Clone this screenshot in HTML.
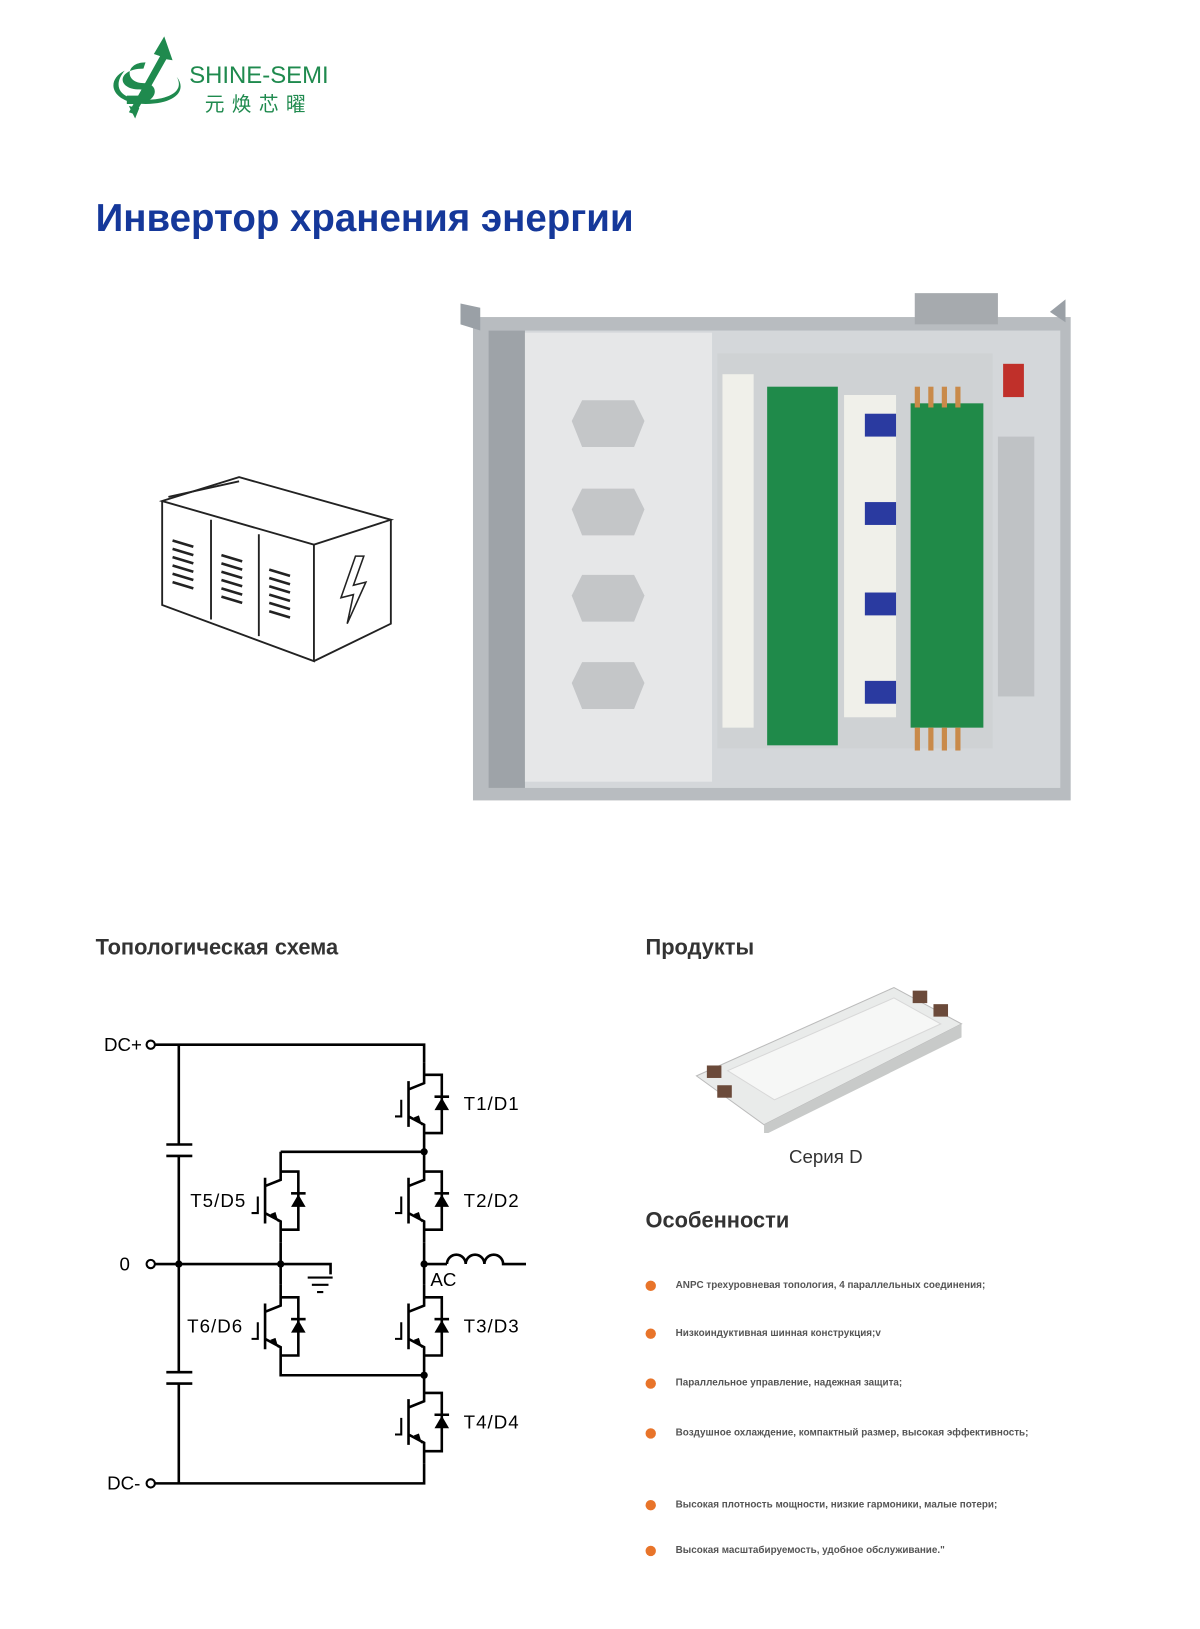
<!DOCTYPE html>
<html><head><meta charset="utf-8"><style>
body{margin:0;background:#fff;}
.o{width:1200px;height:1629px;overflow:hidden;position:relative;}
.p{position:absolute;left:0;top:0;width:1200px;height:1629px;transform:scale(1.0395);transform-origin:0 0;font-family:"Liberation Sans","Noto Sans CJK SC",sans-serif;}
.t{position:absolute;white-space:nowrap;}
</style></head><body><div class="o"><div class="p">
<!-- logo -->
<svg class="t" style="left:100px;top:30px" width="80" height="90" viewBox="0 0 80 90">
<path d="M58 5 L66 28 L60 27 L30 80 L24 78 L54 24 L48 22 Z" fill="#1f8a4e"/>
<path d="M40 30 C20 30 20 50 38 50 C55 50 52 70 30 70 L22 70 L22 62 L32 62 C42 62 42 56 34 56 C12 56 12 36 38 36 Z" fill="#1f8a4e"/>
<path d="M20 38 C0 48 8 70 40 70 C70 70 80 56 70 44 C78 58 62 66 40 66 C14 66 8 52 20 38Z" fill="#1f8a4e"/>
<path d="M24 72 L30 84 L34 74Z" fill="#1f8a4e"/>
</svg>
<div class="t" style="left:182px;top:59px;font-size:23px;color:#1f8a4e;">SHINE-SEMI</div>
<div class="t" style="left:197px;top:86px;font-size:19px;color:#1f8a4e;letter-spacing:7px;">元焕芯曜</div>
<div class="t" style="left:92px;top:189px;font-size:37px;font-weight:bold;color:#15389a;">Инвертор хранения энергии</div>

<!-- box icon -->
<svg class="t" style="left:150px;top:452px" width="235" height="190" viewBox="150 452 235 190" fill="none" stroke="#222" stroke-width="1.8">
<path d="M156 482 L230 459 L376 500 L302 524 Z"/>
<path d="M156 482 L156 582 L302 636 L302 524"/>
<path d="M376 500 L376 600 L302 636"/>
<path d="M162 478 L230 463"/>
<line x1="203" y1="500" x2="203" y2="596"/><line x1="249" y1="514" x2="249" y2="612"/>
<g stroke-width="2.5">
<path d="M166 520 l20 6 M166 528 l20 6 M166 536 l20 6 M166 544 l20 6 M166 552 l20 6 M166 560 l20 6"/>
<path d="M213 534 l20 6 M213 542 l20 6 M213 550 l20 6 M213 558 l20 6 M213 566 l20 6 M213 574 l20 6"/>
<path d="M259 548 l20 6 M259 556 l20 6 M259 564 l20 6 M259 572 l20 6 M259 580 l20 6 M259 588 l20 6"/>
</g>
<path d="M342 535 L328 575 L340 572 L334 600 L352 560 L340 563 L350 535 Z" stroke-width="1.5"/>
</svg>

<!-- photo -->
<svg class="t" style="left:440px;top:278px" width="605" height="500" viewBox="440 278 605 500">
<rect x="455" y="305" width="575" height="465" fill="#b8bcc0"/>
<polygon points="443,292 462,296 462,318 443,312" fill="#9aa0a6"/>
<polygon points="1025,288 1010,300 1025,310" fill="#9aa0a6"/>
<rect x="880" y="282" width="80" height="30" fill="#a6aaae"/>
<rect x="470" y="318" width="550" height="440" fill="#d4d7da"/>
<rect x="470" y="318" width="35" height="440" fill="#9ea3a8"/>
<rect x="505" y="320" width="180" height="432" fill="#e6e7e8"/>
<g fill="#c4c6c8"><polygon points="560,385 610,385 620,405 610,430 560,430 550,405"/><polygon points="560,470 610,470 620,490 610,515 560,515 550,490"/><polygon points="560,553 610,553 620,573 610,598 560,598 550,573"/><polygon points="560,637 610,637 620,657 610,682 560,682 550,657"/></g>
<rect x="690" y="340" width="265" height="380" fill="#cfd2d4"/>
<rect x="738" y="372" width="68" height="345" fill="#1f8a4a"/>
<rect x="876" y="388" width="70" height="312" fill="#208a48"/>
<g fill="#f0f0ea"><rect x="695" y="360" width="30" height="340"/><rect x="812" y="380" width="50" height="310"/></g>
<g fill="#2a3aa0"><rect x="832" y="398" width="30" height="22"/><rect x="832" y="483" width="30" height="22"/><rect x="832" y="570" width="30" height="22"/><rect x="832" y="655" width="30" height="22"/></g>
<g fill="#c0302a"><rect x="965" y="350" width="20" height="32"/><rect x="965" y="535" width="20" height="32"/></g>
<g fill="#c98a4a"><rect x="880" y="372" width="5" height="20"/><rect x="893" y="372" width="5" height="20"/><rect x="906" y="372" width="5" height="20"/><rect x="919" y="372" width="5" height="20"/><rect x="880" y="700" width="5" height="22"/><rect x="893" y="700" width="5" height="22"/><rect x="906" y="700" width="5" height="22"/><rect x="919" y="700" width="5" height="22"/></g>
<rect x="960" y="420" width="35" height="250" fill="#bfc2c5"/>
</svg>

<div class="t" style="left:92px;top:900px;font-size:21px;font-weight:bold;color:#333;">Топологическая схема</div>
<div class="t" style="left:621px;top:900px;font-size:21px;font-weight:bold;color:#333;">Продукты</div>

<!-- circuit -->
<svg class="t" style="left:0;top:980px" width="560" height="470" viewBox="0 980 560 470" font-family="Liberation Sans, sans-serif" font-size="18" letter-spacing="1" fill="none" stroke="#000" stroke-width="2.5">
<defs>
<g id="ig">
<path d="M0 -40 V-20 L-15 -14 M-15 -22 V22 M-15 12 L0 20 V40 M0 -28 H17 V28 H0"/>
<path d="M-22 -4 V12 H-28" stroke-width="2"/>
<polygon points="-2,21 -10,13 -5,11" fill="#000" stroke="none"/>
<polygon points="17,-6 10,6 24,6" fill="#000" stroke="none"/>
<line x1="10" y1="-7" x2="24" y2="-7"/>
</g>
</defs>
<path d="M148 1005 H408 V1022 M172 1005 V1101 M172 1112 V1320 M172 1331 V1427 M148 1427 H408 V1408 M148 1216 H318 V1226"/>
<path d="M160 1101 H185 M160 1112 H185 M160 1320 H185 M160 1331 H185"/>
<path d="M296 1229 H320 M300 1236 H316 M305 1243 H311" stroke-width="2"/>
<path d="M408 1102 V1115 M408 1195 V1236 M408 1316 V1328 M270 1108 H408 M270 1108 V1115 M270 1195 V1236 M270 1316 V1323 H408 M408 1216 H430"/>
<path d="M430 1216 a9 9 0 0 1 18 0 a9 9 0 0 1 18 0 a9 9 0 0 1 18 0 H506"/>
<use href="#ig" x="408" y="1062"/><use href="#ig" x="408" y="1155"/><use href="#ig" x="408" y="1276"/><use href="#ig" x="408" y="1368"/>
<use href="#ig" x="270" y="1155"/><use href="#ig" x="270" y="1276"/>
<g fill="#000" stroke="none"><circle cx="172" cy="1216" r="3.5"/><circle cx="270" cy="1216" r="3.5"/><circle cx="408" cy="1108" r="3.5"/><circle cx="408" cy="1216" r="3.5"/><circle cx="408" cy="1323" r="3.5"/></g>
<g fill="#fff" stroke-width="2"><circle cx="145" cy="1005" r="4"/><circle cx="145" cy="1216" r="4"/><circle cx="145" cy="1427" r="4"/></g>
<g fill="#000" stroke="none">
<text x="100" y="1011" letter-spacing="0">DC+</text><text x="115" y="1222">0</text><text x="103" y="1433" letter-spacing="0">DC-</text>
<text x="446" y="1068">T1/D1</text><text x="446" y="1161">T2/D2</text><text x="446" y="1282">T3/D3</text><text x="446" y="1374">T4/D4</text>
<text x="183" y="1161">T5/D5</text><text x="180" y="1282">T6/D6</text><text x="414" y="1237" letter-spacing="0">AC</text>
</g>
</svg>

<!-- module -->
<svg class="t" style="left:665px;top:940px" width="265" height="150" viewBox="665 940 265 150">
<polygon points="670,1035 860,950 925,985 735,1082" fill="#e9ebea" stroke="#bbb"/>
<polygon points="735,1082 925,985 925,998 735,1092" fill="#c8cac9"/>
<polygon points="700,1030 860,960 905,985 745,1058" fill="#f6f7f6" stroke="#d8d8d8"/>
<g fill="#6b4a3a"><rect x="680" y="1025" width="14" height="12"/><rect x="690" y="1044" width="14" height="12"/><rect x="878" y="953" width="14" height="12"/><rect x="898" y="966" width="14" height="12"/></g>
</svg>
<div class="t" style="left:759px;top:1103px;font-size:18px;color:#333;">Серия D</div>
<div class="t" style="left:621px;top:1163px;font-size:21px;font-weight:bold;color:#333;">Особенности</div>

<div style="font-size:9.5px;font-weight:bold;color:#555;">
<div class="t" style="left:621px;top:1232px;width:10px;height:10px;border-radius:50%;background:#e8742a"></div><div class="t" style="left:650px;top:1231px">ANPC трехуровневая топология, 4 параллельных соединения;</div>
<div class="t" style="left:621px;top:1278px;width:10px;height:10px;border-radius:50%;background:#e8742a"></div><div class="t" style="left:650px;top:1277px">Низкоиндуктивная шинная конструкция;v</div>
<div class="t" style="left:621px;top:1326px;width:10px;height:10px;border-radius:50%;background:#e8742a"></div><div class="t" style="left:650px;top:1325px">Параллельное управление, надежная защита;</div>
<div class="t" style="left:621px;top:1374px;width:10px;height:10px;border-radius:50%;background:#e8742a"></div><div class="t" style="left:650px;top:1373px">Воздушное охлаждение, компактный размер, высокая эффективность;</div>
<div class="t" style="left:621px;top:1443px;width:10px;height:10px;border-radius:50%;background:#e8742a"></div><div class="t" style="left:650px;top:1442px">Высокая плотность мощности, низкие гармоники, малые потери;</div>
<div class="t" style="left:621px;top:1487px;width:10px;height:10px;border-radius:50%;background:#e8742a"></div><div class="t" style="left:650px;top:1486px">Высокая масштабируемость, удобное обслуживание."</div>
</div>
</div></div></body></html>
